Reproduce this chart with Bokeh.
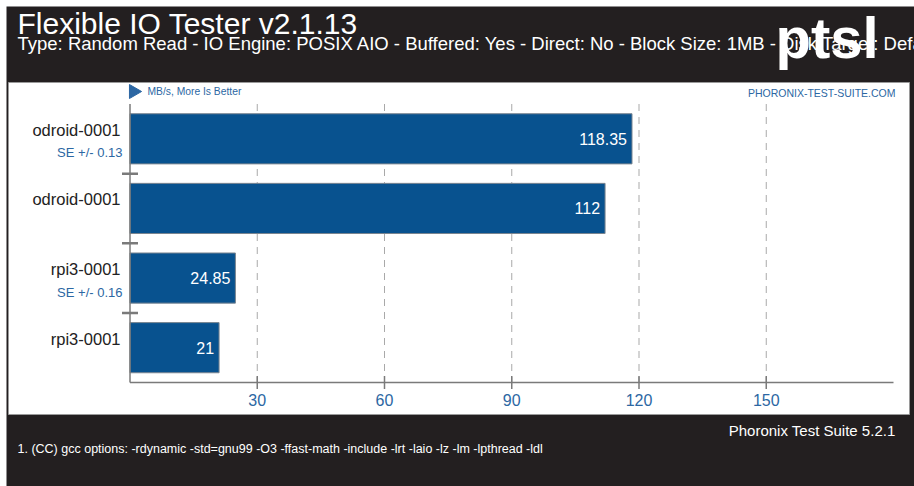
import math
from bokeh.plotting import figure
from bokeh.models import Range1d
from bokeh.core.properties import value
from bokeh.embed import file_html
from bokeh.resources import INLINE

# ---- data ----
systems = ["odroid-0001", "odroid-0001", "rpi3-0001", "rpi3-0001"]
results = [118.35, 112, 24.85, 21]
se_labels = ["SE +/- 0.13", "", "SE +/- 0.16", ""]
x_ticks = [30, 60, 90, 120, 150]
x_max = 180

TITLE = "Flexible IO Tester v2.1.13"
SUBTITLE = ("Type: Random Read - IO Engine: POSIX AIO - Buffered: Yes - Direct: No - "
            "Block Size: 1MB - Disk Target: Default Test Directory")
UNITS = "MB/s, More Is Better"
SITE = "PHORONIX-TEST-SUITE.COM"
VERSION = "Phoronix Test Suite 5.2.1"
NOTE = ("1. (CC) gcc options: -rdynamic -std=gnu99 -O3 -ffast-math -include -lrt "
        "-laio -lz -lm -lpthread -ldl")

# ---- style / layout (pixels inside the figure) ----
DARK = "#231f20"
BLUE = "#2c67a3"
BAR = "#08528f"
GRAY = "#7a7a7a"
FONT = "Liberation Sans"
W, H = 914, 486
BG_L, BG_T = 6, 6              # dark background starts here
PANEL_L, PANEL_R, PANEL_T, PANEL_B = 8, 909, 82, 414
X0, X1 = 129.5, 893.0          # plot area left / right
Y0, Y1 = 103.5, 382.0          # plot area top / bottom

n = len(systems)
kx = (X1 - X0) / x_max
ky = (Y1 - Y0) / n


def dx(px):
    return (px - X0) / kx


def dy(py):
    return (py - Y0) / ky


p = figure(width=W, height=H, output_backend="svg", toolbar_location=None,
           x_range=Range1d(dx(0), dx(W)), y_range=Range1d(dy(H), dy(0)),
           min_border=0)
p.axis.visible = False
p.grid.visible = False
p.outline_line_color = None
p.background_fill_color = "white"
p.border_fill_color = "white"

# dark page and white chart panel
p.quad(left=[dx(BG_L)], right=[dx(W)], top=[dy(BG_T)], bottom=[dy(H)],
       fill_color=DARK, line_color=None)
p.quad(left=[dx(PANEL_L)], right=[dx(PANEL_R)], top=[dy(PANEL_T)], bottom=[dy(PANEL_B)],
       fill_color="white", line_color="#9a9a9a", line_width=1)

# header
p.text(x=[dx(17)], y=[dy(23)], text=[TITLE], text_color="white", text_font=value(FONT),
       text_font_size="30px", text_baseline="middle")
p.text(x=[dx(17)], y=[dy(43)], text=[SUBTITLE], text_color="white", text_font=value(FONT),
       text_font_size="18.5px", text_baseline="middle")
p.text(x=[dx(775)], y=[dy(37)], text=["ptsl"], text_color="white", text_font=value(FONT),
       text_font_size="58px", text_font_style="bold", text_baseline="middle")

ypos = [i + 0.5 for i in range(n)]

# grid
p.segment(x0=x_ticks, y0=[0] * len(x_ticks), x1=x_ticks, y1=[n] * len(x_ticks),
          line_color="#a9a9a9", line_dash="7 6", line_width=1)

# bars
p.hbar(y=ypos, right=results, left=0, height=0.72, fill_color=BAR, line_color="#7a8590",
       line_width=1)
p.text(x=results, y=ypos, text=[f"{v:g}" for v in results], x_offset=-5,
       text_align="right", text_baseline="middle", text_color="white",
       text_font=value(FONT), text_font_size="16px")

# axes
p.segment(x0=[0], y0=[0], x1=[0], y1=[n], line_color=GRAY, line_width=1.5)
p.segment(x0=[0], y0=[n], x1=[x_max], y1=[n], line_color=GRAY, line_width=1.5)
p.scatter(x=[0] * (n - 1), y=list(range(1, n)), marker="dash", size=16,
          line_color=GRAY, line_width=2.5)
p.scatter(x=x_ticks, y=[n] * len(x_ticks), marker="dash", angle=math.pi / 2, size=13,
          line_color=GRAY, line_width=1.5)
p.text(x=x_ticks, y=[n] * len(x_ticks), text=[str(t) for t in x_ticks], y_offset=17,
       text_align="center", text_baseline="middle", text_color=BLUE,
       text_font=value(FONT), text_font_size="16px")

# category labels
p.text(x=[0] * n, y=ypos, text=systems, x_offset=-9.5, y_offset=-9,
       text_align="right", text_baseline="middle", text_color="#222222",
       text_font=value(FONT), text_font_size="16.5px")
se_y = [yy for yy, s in zip(ypos, se_labels) if s]
se_t = [s for s in se_labels if s]
p.text(x=[0] * len(se_y), y=se_y, text=se_t, x_offset=-7.5, y_offset=14,
       text_align="right", text_baseline="middle", text_color=BLUE,
       text_font=value(FONT), text_font_size="13px")

# notes at the top of the panel
p.scatter(x=[dx(133)], y=[dy(91)], marker="triangle", angle=-math.pi / 2, size=14,
          fill_color=BLUE, line_color=BLUE)
p.text(x=[dx(147)], y=[dy(91)], text=[UNITS], text_align="left", text_baseline="middle",
       text_color=BLUE, text_font=value(FONT), text_font_size="10.3px")
p.text(x=[dx(895)], y=[dy(92)], text=[SITE], text_align="right", text_baseline="middle",
       text_color=BLUE, text_font=value(FONT), text_font_size="10.5px")

# footer
p.text(x=[dx(895)], y=[dy(430)], text=[VERSION], text_color="white", text_font=value(FONT),
       text_font_size="15px", text_align="right", text_baseline="middle")
p.text(x=[dx(17)], y=[dy(448)], text=[NOTE], text_color="white", text_font=value(FONT),
       text_font_size="12.5px", text_align="left", text_baseline="middle")

open("out.html", "w").write(file_html(p, INLINE))
